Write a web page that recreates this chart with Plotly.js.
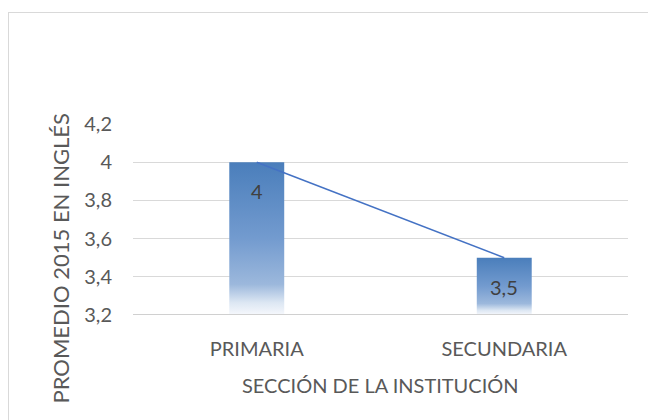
<!DOCTYPE html>
<html>
<head>
<meta charset="utf-8">
<script src="https://cdn.plot.ly/plotly-3.0.1.min.js"></script>
<style>
html,body{margin:0;padding:0;background:#fff;}
#wrap{position:relative;width:648px;height:420px;overflow:hidden;}
#chart{position:absolute;left:0;top:0;width:648px;height:420px;}
#frame{position:absolute;left:8px;top:12px;width:700px;height:500px;border:1.5px solid #d9d9d9;pointer-events:none;box-sizing:border-box;}
</style>
</head>
<body>
<div id="wrap"><div id="chart"></div><div id="frame"></div></div>
<script>
var categories = ['PRIMARIA', 'SECUNDARIA'];
var values = [4, 3.5];
var valueLabels = ['4', '3,5'];
var yTickVals = [3.2, 3.4, 3.6, 3.8, 4.0, 4.2];
var yTickText = ['3,2', '3,4', '3,6', '3,8', '4', '4,2'];
var yTitle = 'PROMEDIO 2015 EN INGLÉS';
var xTitle = 'SECCIÓN DE LA INSTITUCIÓN';

var FONT = 'Lato, "Open Sans", sans-serif';
var TXT = '#595959';
var yMin = 3.2, yMax = 4.2;
var half = 0.111;
var idx = categories.map(function(c, i){ return i; });

var traces = [];
idx.forEach(function(i){
  traces.push({
    type: 'scatter', mode: 'lines',
    x: [i - half, i + half, i + half, i - half, i - half],
    y: [yMin, yMin, values[i], values[i], yMin],
    fill: 'toself',
    line: {width: 0, color: 'rgba(0,0,0,0)'},
    fillgradient: {
      type: 'vertical',
      colorscale: [[0, '#f6f8fc'], [0.08, '#dde7f3'], [0.2, '#9cb8dc'], [0.5, '#739bcf'], [1, '#4a7ebb']]
    },
    hoverinfo: 'skip', showlegend: false
  });
});
traces.push({
  type: 'scatter', mode: 'lines',
  x: idx, y: values,
  line: {color: '#4472c4', width: 1.5},
  showlegend: false
});

var annotations = idx.map(function(i){
  return {x: i, y: values[i], xref: 'x', yref: 'y', text: valueLabels[i],
    showarrow: false, yshift: -29, yanchor: 'middle',
    font: {family: FONT, size: 20, color: '#404040'}};
});
annotations.push({x: -0.147, y: 0.297, xref: 'paper', yref: 'paper', text: yTitle,
  xanchor: 'center', yanchor: 'middle',
  textangle: -90, showarrow: false, font: {family: FONT, size: 22, color: TXT}});
annotations.push({x: 0.5, y: -0.366, xref: 'paper', yref: 'paper', text: xTitle,
  xanchor: 'center', yanchor: 'middle',
  showarrow: false, font: {family: FONT, size: 20, color: TXT}});

var layout = {
  width: 648, height: 420,
  margin: {l: 133, r: 20, t: 124, b: 105},
  paper_bgcolor: 'rgba(0,0,0,0)', plot_bgcolor: '#fff',
  font: {family: FONT, color: TXT, size: 20},
  xaxis: {
    range: [-0.5, 1.5], tickvals: idx, ticktext: categories,
    showgrid: false, zeroline: false, showline: false,
    ticks: '', ticklabelstandoff: 20, tickfont: {size: 20, color: TXT}, fixedrange: true
  },
  yaxis: {
    range: [yMin, yMax], tickvals: yTickVals, ticktext: yTickText,
    showgrid: true, gridcolor: '#d9d9d9', gridwidth: 1.3, zeroline: false, showline: false,
    ticks: '', ticklabelstandoff: 20, tickfont: {size: 20, color: TXT}, fixedrange: true
  },
  shapes: [{type: 'line', xref: 'paper', yref: 'y', x0: 0, x1: 1, y0: yMin, y1: yMin,
    line: {color: '#d0d0d0', width: 2}}],
  annotations: annotations
};
Plotly.newPlot('chart', traces, layout, {displayModeBar: false, staticPlot: true});
</script>
</body>
</html>
